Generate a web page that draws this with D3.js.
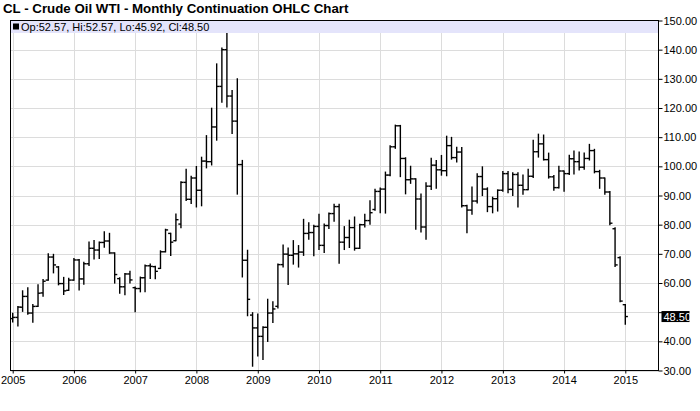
<!DOCTYPE html>
<html>
<head>
<meta charset="utf-8">
<script src="https://cdn.jsdelivr.net/npm/d3@7"></script>
<style>
  body { margin: 0; background: #fff; }
  svg { display: block; font-family: "Liberation Sans", Arial, sans-serif; }
</style>
</head>
<body>
<div id="chart"></div>
<script>
// monthly bars, Jan 2005 .. Jan 2015
var firstMonth = new Date(2005, 0, 1);
var lastMonth = new Date(2015, 0, 1);

var opens = [
  47.8, 48.2, 51.7, 55.4, 49.7, 52.0, 56.6, 61.0, 68.9, 65.5, 59.8, 57.5,
  61.0, 67.9, 61.4, 66.6, 71.9, 71.3, 73.9, 74.4, 70.3, 61.5, 58.7, 63.1,
  58.4, 58.1, 61.8, 65.9, 65.6, 65.0, 70.7, 77.0, 74.5, 80.2, 94.5, 88.7,
  96.0, 91.8, 101.8, 101.6, 113.5, 127.4, 140.0, 124.1, 115.5, 100.6, 67.8, 49.0,
  44.6, 41.7, 44.8, 49.7, 52.0, 66.3, 69.9, 69.5, 70.0, 70.6, 77.0, 77.3,
  79.4, 72.9, 79.7, 83.8, 86.2, 74.0, 75.6, 79.0, 71.9, 80.0, 81.4, 85.2,
  91.4, 92.2, 97.0, 106.7, 113.9, 102.7, 95.4, 95.7, 88.8, 79.2, 93.2, 100.4,
  98.8, 98.5, 107.1, 103.0, 104.9, 86.5, 85.0, 88.1, 96.5, 92.2, 86.2, 88.9,
  91.8, 97.5, 92.1, 97.2, 93.5, 92.0, 96.6, 105.0, 107.7, 102.3, 96.4, 92.7,
  98.4, 97.5, 102.6, 101.6, 99.7, 102.7, 105.4, 98.2, 96.0, 91.2, 78.6, 68.7,
  52.57
];
var highs = [
  49.6, 51.9, 57.3, 58.3, 52.6, 59.4, 61.2, 70.0, 69.8, 65.6, 61.9, 61.6,
  68.4, 68.0, 67.1, 74.0, 74.5, 74.0, 77.5, 77.0, 70.3, 61.8, 63.2, 64.0,
  58.6, 62.0, 66.1, 66.5, 65.7, 71.0, 78.4, 77.0, 83.6, 94.7, 99.0, 96.6,
  99.9, 103.1, 110.5, 119.9, 135.1, 140.5, 147.3, 126.0, 130.0, 102.0, 71.2, 49.8,
  49.3, 45.0, 54.4, 53.5, 66.5, 73.0, 72.0, 74.5, 72.8, 81.8, 80.6, 79.8,
  83.5, 80.2, 84.0, 87.0, 87.0, 79.3, 81.5, 82.6, 80.1, 83.5, 88.2, 92.1,
  92.5, 98.0, 107.0, 114.1, 114.0, 102.9, 100.0, 95.7, 90.5, 94.3, 102.7, 102.0,
  103.7, 110.3, 109.9, 106.5, 106.4, 86.6, 92.9, 97.4, 99.8, 92.6, 89.4, 91.9,
  98.2, 98.2, 97.8, 97.8, 97.0, 99.0, 108.9, 111.0, 110.7, 104.5, 96.8, 100.0,
  98.4, 103.8, 105.2, 104.9, 104.5, 107.5, 105.8, 98.6, 96.0, 91.3, 78.9, 69.0,
  52.57
];
var lows = [
  46.7, 45.3, 50.3, 49.3, 46.6, 52.0, 55.5, 61.0, 63.5, 59.4, 56.1, 57.5,
  61.0, 57.6, 59.6, 66.0, 68.3, 68.4, 72.3, 70.2, 60.0, 56.5, 56.0, 60.0,
  50.2, 57.0, 57.0, 61.6, 61.5, 65.0, 70.7, 69.5, 74.5, 79.0, 88.3, 87.3,
  86.1, 86.5, 99.5, 100.5, 109.0, 122.0, 120.4, 111.3, 90.5, 62.1, 48.8, 31.5,
  35.0, 33.8, 40.0, 46.5, 51.5, 65.5, 59.5, 66.5, 65.5, 69.5, 75.0, 69.4,
  71.5, 70.5, 78.7, 81.2, 66.8, 71.5, 72.2, 71.3, 71.9, 79.2, 80.2, 85.0,
  84.1, 84.0, 96.8, 106.2, 96.5, 90.6, 94.2, 78.5, 77.5, 75.0, 92.1, 92.5,
  97.0, 96.8, 102.5, 101.5, 86.1, 77.3, 83.6, 87.5, 90.0, 84.5, 84.1, 84.7,
  91.5, 91.0, 90.0, 86.1, 90.5, 92.0, 96.2, 103.2, 102.2, 96.0, 91.8, 92.6,
  91.5, 97.2, 97.4, 98.8, 99.0, 102.2, 97.8, 92.5, 90.5, 80.0, 65.7, 53.6,
  45.92
];
var closes = [
  48.2, 51.75, 55.4, 49.7, 51.97, 56.5, 60.6, 68.9, 66.2, 59.8, 57.3, 61.0,
  67.9, 61.4, 66.6, 71.9, 71.3, 73.9, 74.4, 70.3, 62.9, 58.7, 63.1, 61.05,
  58.1, 61.8, 65.9, 65.7, 64.0, 70.7, 78.2, 74.0, 81.7, 94.5, 88.7, 96.0,
  91.8, 101.8, 101.6, 113.5, 127.4, 140.0, 124.1, 115.5, 100.6, 67.8, 54.4, 44.6,
  41.7, 44.8, 49.7, 51.1, 66.3, 69.9, 69.5, 70.0, 70.6, 77.0, 77.3, 79.4,
  72.9, 79.7, 83.8, 86.2, 74.0, 75.6, 79.0, 71.9, 80.0, 81.4, 84.1, 91.4,
  92.2, 97.0, 106.7, 113.9, 102.7, 95.4, 95.7, 88.8, 79.2, 93.2, 100.4, 98.8,
  98.5, 107.1, 103.0, 104.9, 86.5, 85.0, 88.1, 96.5, 92.2, 86.2, 88.9, 91.8,
  97.5, 92.1, 97.2, 93.5, 92.0, 96.6, 105.0, 107.7, 102.3, 96.4, 92.7, 98.4,
  97.5, 102.6, 101.6, 99.7, 102.7, 105.4, 98.2, 96.0, 91.2, 80.5, 66.2, 53.8,
  48.50
];

var priceTicks = [30, 40, 50, 60, 70, 80, 90, 100, 110, 120, 130, 140, 150];
var yearTicks = [2005, 2006, 2007, 2008, 2009, 2010, 2011, 2012, 2013, 2014, 2015];

var titleText = "CL - Crude Oil WTI - Monthly Continuation OHLC Chart";

var width = 700, height = 411;
var plot = {left: 10.5, right: 658.5, top: 20.5, bottom: 370.5};

var months = d3.timeMonth.range(firstMonth, d3.timeMonth.offset(lastMonth, 1));
var bars = months.map(function(m, i) {
  return {date: m, o: opens[i], h: highs[i], l: lows[i], c: closes[i]};
});
var last = bars[bars.length - 1];

var svg = d3.select("#chart").append("svg")
  .attr("width", width)
  .attr("height", height);

var x = d3.scaleTime()
  .domain([new Date(2005, 0, 1), new Date(2015, 0, 1)])
  .range([12.7, 625.3]);

var y = d3.scaleLinear()
  .domain([30, 150])
  .range([plot.bottom, plot.top]);

// grid
var grid = svg.append("g").attr("stroke", "#dcdcdc").attr("stroke-width", 1);
grid.selectAll(".hg").data(priceTicks).enter().append("line")
  .attr("x1", plot.left).attr("x2", plot.right)
  .attr("y1", function(d) { return Math.round(y(d)) + 0.5; })
  .attr("y2", function(d) { return Math.round(y(d)) + 0.5; });
grid.selectAll(".vg").data(yearTicks).enter().append("line")
  .attr("x1", function(d) { return Math.round(x(new Date(d, 0, 1))) + 0.5; })
  .attr("x2", function(d) { return Math.round(x(new Date(d, 0, 1))) + 0.5; })
  .attr("y1", plot.top).attr("y2", plot.bottom);

// OHLC bars
var tick = 2.6;
var g = svg.append("g").attr("stroke", "#000").attr("stroke-width", 1.4);
var bar = g.selectAll(".bar").data(bars).enter().append("g");
bar.append("line")
  .attr("x1", function(d) { return x(d.date); })
  .attr("x2", function(d) { return x(d.date); })
  .attr("y1", function(d) { return y(d.h) - 0.6; })
  .attr("y2", function(d) { return y(d.l) + 0.6; });
bar.append("line")
  .attr("x1", function(d) { return x(d.date) - tick; })
  .attr("x2", function(d) { return x(d.date); })
  .attr("y1", function(d) { return y(d.o); })
  .attr("y2", function(d) { return y(d.o); });
bar.append("line")
  .attr("x1", function(d) { return x(d.date); })
  .attr("x2", function(d) { return x(d.date) + tick; })
  .attr("y1", function(d) { return y(d.c); })
  .attr("y2", function(d) { return y(d.c); });

// legend band over the top of the plot
svg.append("rect")
  .attr("x", plot.left).attr("y", plot.top)
  .attr("width", plot.right - plot.left).attr("height", 12.5)
  .attr("fill", "#e4e4fb");
svg.append("rect")
  .attr("x", 13).attr("y", 23.5).attr("width", 6).attr("height", 6)
  .attr("fill", "#000");
svg.append("text")
  .attr("x", 21).attr("y", 31)
  .attr("font-size", 11)
  .text("Op:" + last.o.toFixed(2) + ", Hi:" + last.h.toFixed(2) +
        ", Lo:" + last.l.toFixed(2) + ", Cl:" + last.c.toFixed(2));

// frame
svg.append("rect")
  .attr("x", plot.left).attr("y", plot.top)
  .attr("width", plot.right - plot.left).attr("height", plot.bottom - plot.top)
  .attr("fill", "none").attr("stroke", "#000").attr("stroke-width", 1);

// right axis
var yAxis = svg.append("g")
  .attr("transform", "translate(" + plot.right + ",0)")
  .call(d3.axisRight(y).tickValues(priceTicks).tickFormat(d3.format(".2f")).tickSize(4).tickPadding(1));
yAxis.select(".domain").remove();
yAxis.selectAll("text")
  .attr("font-size", 11).attr("font-family", "Liberation Sans, Arial, sans-serif")
  .attr("fill", "#000")
  .style("display", function(d) { return Math.abs(y(d) - y(last.c)) < 10 ? "none" : null; });

// last price marker
var lp = svg.append("g").attr("transform", "translate(" + (plot.right + 3) + "," + y(last.c) + ")");
lp.append("rect").attr("x", 0).attr("y", -5.5).attr("width", 28).attr("height", 11).attr("fill", "#000");
lp.append("text").attr("x", 2).attr("y", 4).attr("font-size", 11).attr("fill", "#fff")
  .text(last.c.toFixed(2));

// bottom axis
var xAxis = svg.append("g")
  .attr("transform", "translate(0," + plot.bottom + ")")
  .call(d3.axisBottom(x)
    .tickValues(yearTicks.map(function(d) { return new Date(d, 0, 1); }))
    .tickFormat(d3.timeFormat("%Y")).tickSize(3).tickPadding(3));
xAxis.select(".domain").remove();
xAxis.selectAll("text")
  .attr("font-size", 11).attr("font-family", "Liberation Sans, Arial, sans-serif")
  .attr("fill", "#000");

// title
svg.append("text")
  .attr("x", 3).attr("y", 13)
  .attr("font-size", 13.3).attr("font-weight", "bold")
  .text(titleText);
</script>
</body>
</html>
